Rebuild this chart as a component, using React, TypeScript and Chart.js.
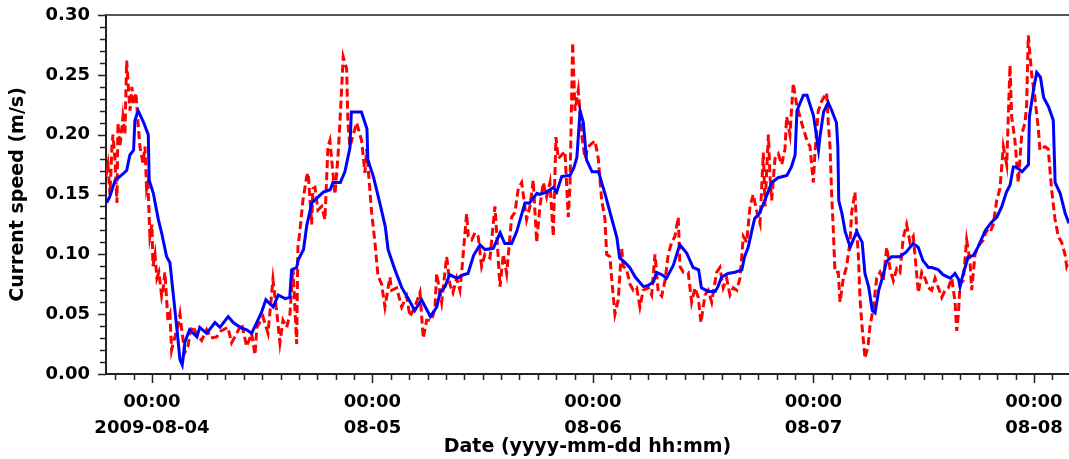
import React, { useEffect, useRef } from "react";
import { Chart, registerables } from "chart.js";

Chart.register(...registerables);

// Hours relative to 2009-08-04 00:00
const blueHours = [-4.93,-4.6,-4.0,-3.5,-2.75,-2.4,-2.0,-1.85,-1.5,-0.95,-0.4,-0.3,0.15,0.7,1.05,1.6,1.96,2.3,2.7,3.05,3.3,3.6,4.1,4.9,5.2,5.95,6.86,7.4,8.3,8.85,9.6,10.3,10.85,11.4,11.9,12.4,13.2,13.75,14.5,15.0,15.2,15.75,15.9,16.5,16.85,17.4,18.1,18.65,19.4,19.7,20.5,21.0,21.55,21.7,22.8,23.4,23.5,24.1,24.8,25.4,25.7,26.45,27.2,27.9,28.6,29.35,30.3,31.0,31.35,31.9,32.4,33.2,33.9,34.4,35.0,35.7,36.25,37.15,37.9,38.4,39.15,39.7,40.6,41.1,41.9,42.2,42.95,43.7,44.05,44.6,45.5,45.9,46.25,46.6,46.95,47.3,47.9,48.6,49.3,50.0,50.6,50.9,51.5,52.0,52.6,53.5,54.0,54.6,54.9,55.5,56.0,56.75,57.45,58.2,58.9,59.5,59.8,60.55,61.3,61.6,62.0,62.7,63.45,64.2,64.5,64.9,65.3,65.6,66.1,66.7,67.45,68.15,69.1,69.6,70.0,70.2,70.9,71.3,72.0,72.55,72.7,73.1,73.6,74.0,74.5,74.65,74.75,75.1,75.45,76.0,76.7,77.3,77.6,78.0,78.4,78.7,79.1,79.6,79.95,80.5,81.4,82.1,82.85,83.4,83.9,84.5,84.9,85.6,86.1,86.9,87.4,87.8,87.95,88.3,88.85,89.4,89.9,90.7,91.4,91.95,92.5,93.0,93.4,93.75,94.1,94.7,95.4,95.5,96.0,96.3,96.7,97.05,97.6,98.1,98.3,98.85,99.4,99.8];
const blueSpeed = [0.143,0.148,0.162,0.165,0.170,0.183,0.187,0.212,0.220,0.211,0.200,0.162,0.151,0.129,0.118,0.098,0.093,0.068,0.039,0.012,0.0075,0.027,0.037,0.031,0.039,0.034,0.043,0.039,0.048,0.043,0.039,0.037,0.034,0.043,0.051,0.062,0.056,0.066,0.063,0.064,0.087,0.089,0.095,0.104,0.124,0.143,0.148,0.152,0.154,0.160,0.160,0.169,0.189,0.219,0.219,0.205,0.179,0.165,0.143,0.123,0.104,0.087,0.072,0.063,0.053,0.062,0.048,0.056,0.068,0.073,0.083,0.080,0.083,0.084,0.099,0.108,0.104,0.105,0.118,0.109,0.109,0.119,0.143,0.143,0.151,0.150,0.152,0.156,0.152,0.165,0.166,0.172,0.181,0.220,0.210,0.179,0.169,0.169,0.151,0.131,0.114,0.097,0.093,0.089,0.081,0.073,0.074,0.077,0.085,0.083,0.080,0.091,0.108,0.101,0.089,0.087,0.072,0.069,0.069,0.073,0.081,0.084,0.085,0.087,0.098,0.106,0.120,0.130,0.134,0.145,0.160,0.164,0.166,0.173,0.183,0.220,0.233,0.233,0.216,0.187,0.198,0.219,0.227,0.220,0.210,0.190,0.145,0.134,0.119,0.106,0.119,0.110,0.084,0.073,0.053,0.051,0.070,0.083,0.094,0.098,0.098,0.102,0.109,0.106,0.095,0.089,0.089,0.087,0.083,0.080,0.084,0.079,0.073,0.084,0.098,0.099,0.106,0.120,0.127,0.131,0.140,0.152,0.158,0.173,0.173,0.169,0.175,0.215,0.240,0.252,0.248,0.231,0.223,0.212,0.160,0.151,0.134,0.126];

const redHours = [-5.01,-4.79,-4.57,-4.35,-4.24,-4.03,-3.81,-3.70,-3.48,-3.16,-2.94,-2.75,-2.61,-2.39,-2.18,-2.01,-1.74,-1.52,-1.31,-0.98,-0.76,-0.58,-0.44,-0.22,0,0.11,0.33,0.54,0.76,1.06,1.20,1.41,1.74,1.96,2.14,2.29,2.50,2.83,3.05,3.27,3.59,3.92,4.14,4.46,4.87,5.41,5.95,6.42,7.04,7.51,8.27,8.67,9.22,9.76,10.31,10.85,11.21,11.43,12.08,12.63,13.17,13.61,13.93,14.26,14.66,15.02,15.35,15.56,15.75,15.89,16.11,16.43,16.84,17.01,17.38,17.52,17.74,18.07,18.47,18.83,19.16,19.37,19.92,20.24,20.46,20.82,21.19,21.33,21.55,22.28,22.82,23.18,23.37,23.91,24.27,24.60,25.00,25.36,25.90,26.09,26.63,27.18,27.72,28.08,28.62,29.17,29.53,29.90,30.44,30.80,30.99,31.53,32.08,32.43,32.76,33.16,33.52,33.71,34.25,34.43,34.80,35.16,35.51,35.88,36.24,36.79,37.33,37.52,37.88,38.24,38.61,39.15,39.51,39.87,40.24,40.78,41.14,41.50,41.87,42.23,42.59,42.96,43.32,43.68,43.97,44.22,44.59,44.95,45.31,45.50,45.79,46.04,46.40,46.77,47.13,47.49,48.22,48.58,48.95,49.30,49.49,49.85,50.03,50.39,50.75,51.12,51.30,51.67,52.03,52.39,52.76,53.11,53.47,54.02,54.39,54.75,55.11,55.48,55.84,56.20,56.56,56.92,57.28,57.47,57.83,58.37,58.74,59.10,59.46,59.75,60.19,60.55,60.92,61.46,61.82,62.18,62.55,62.91,63.27,63.64,64.00,64.36,64.73,65.09,65.45,65.82,66.18,66.54,66.73,67.09,67.27,67.45,67.81,68.17,68.54,68.90,69.08,69.44,69.80,70.17,70.53,70.89,71.26,71.62,71.98,72.16,72.52,72.89,73.43,73.61,73.80,73.98,74.16,74.34,74.70,74.89,75.25,75.61,75.97,76.16,76.52,76.70,76.88,77.06,77.25,77.61,77.96,78.15,78.51,78.88,79.24,79.60,79.97,80.33,80.69,81.06,81.41,81.77,82.14,82.50,82.86,83.04,83.41,83.78,84.14,84.50,84.87,85.23,85.59,85.96,86.32,86.68,87.05,87.41,87.59,87.77,87.95,88.30,88.67,89.03,89.22,89.58,89.94,90.48,90.85,91.21,91.57,91.94,92.30,92.66,93.03,93.39,93.57,93.93,94.29,94.66,95.02,95.20,95.38,95.75,96.11,96.47,96.65,97.19,97.55,97.92,98.28,98.64,99.01,99.37,99.56,99.81];
const redSpeed = [0.165,0.175,0.15,0.19,0.2,0.18,0.143,0.21,0.19,0.215,0.2,0.262,0.245,0.22,0.24,0.225,0.235,0.21,0.19,0.176,0.19,0.155,0.16,0.115,0.125,0.09,0.1,0.08,0.085,0.065,0.07,0.085,0.045,0.05,0.02,0.025,0.031,0.04,0.05,0.035,0.018,0.023,0.034,0.04,0.033,0.028,0.037,0.03,0.031,0.036,0.039,0.026,0.034,0.042,0.023,0.034,0.016,0.039,0.048,0.034,0.079,0.05,0.026,0.045,0.039,0.05,0.089,0.055,0.025,0.106,0.12,0.145,0.165,0.168,0.125,0.155,0.156,0.137,0.14,0.129,0.19,0.195,0.15,0.181,0.21,0.265,0.255,0.21,0.19,0.21,0.195,0.168,0.188,0.135,0.11,0.082,0.075,0.056,0.081,0.07,0.072,0.056,0.065,0.048,0.056,0.068,0.03,0.045,0.045,0.055,0.084,0.06,0.098,0.075,0.068,0.08,0.07,0.085,0.134,0.115,0.112,0.118,0.115,0.09,0.1,0.097,0.14,0.118,0.073,0.1,0.084,0.131,0.135,0.155,0.16,0.129,0.14,0.162,0.11,0.14,0.16,0.148,0.16,0.115,0.198,0.18,0.183,0.186,0.131,0.158,0.277,0.22,0.237,0.2,0.18,0.19,0.195,0.18,0.145,0.13,0.1,0.098,0.08,0.05,0.062,0.105,0.09,0.087,0.075,0.07,0.072,0.056,0.07,0.072,0.066,0.1,0.068,0.065,0.078,0.1,0.11,0.115,0.131,0.09,0.085,0.085,0.06,0.072,0.064,0.043,0.066,0.07,0.06,0.085,0.089,0.072,0.08,0.066,0.072,0.07,0.08,0.115,0.11,0.14,0.15,0.136,0.126,0.185,0.14,0.2,0.165,0.145,0.18,0.184,0.175,0.188,0.215,0.2,0.243,0.225,0.215,0.205,0.196,0.19,0.16,0.185,0.22,0.228,0.235,0.21,0.19,0.15,0.12,0.085,0.085,0.06,0.08,0.09,0.11,0.135,0.152,0.12,0.1,0.064,0.043,0.013,0.025,0.04,0.055,0.08,0.085,0.078,0.106,0.088,0.078,0.088,0.085,0.114,0.125,0.11,0.115,0.1,0.068,0.085,0.08,0.072,0.07,0.08,0.072,0.064,0.07,0.072,0.08,0.06,0.036,0.05,0.075,0.078,0.112,0.095,0.07,0.1,0.107,0.112,0.12,0.118,0.125,0.145,0.155,0.19,0.175,0.258,0.215,0.195,0.16,0.2,0.21,0.225,0.283,0.25,0.23,0.205,0.187,0.19,0.188,0.154,0.13,0.115,0.11,0.1,0.09,0.095];

const dayTicks = [0, 24, 48, 72, 96];
const dayLabels = ["2009-08-04", "08-05", "08-06", "08-07", "08-08"];
const timeLabel = "00:00";
const speedTicks = [0, 0.05, 0.1, 0.15, 0.2, 0.25, 0.3];
const xMin = -5.0;
const xMax = 99.81;

const FONT = "'DejaVu Sans', Verdana, sans-serif";

const tickPlugin = {
  id: "customTicks",
  afterDraw(chart: any) {
    const ctx = chart.ctx;
    const xs = chart.scales.x;
    const ys = chart.scales.y;
    const area = chart.chartArea;
    ctx.save();
    ctx.strokeStyle = "#222";
    ctx.lineWidth = 1.5;
    for (let i = 0; i <= 30; i++) {
      const py = Math.round(ys.getPixelForValue(i / 100)) + 0.5;
      const len = i % 5 === 0 ? 8 : 6;
      ctx.beginPath();
      ctx.moveTo(area.left - len, py);
      ctx.lineTo(area.left, py);
      ctx.stroke();
    }
    for (let h = -4; h <= 98; h += 2) {
      const px = Math.round(xs.getPixelForValue(h)) + 0.5;
      const len = h % 24 === 0 ? 9 : 6;
      ctx.beginPath();
      ctx.moveTo(px, area.bottom);
      ctx.lineTo(px, area.bottom + len);
      ctx.stroke();
    }
    ctx.strokeStyle = "#555";
    ctx.lineWidth = 2;
    ctx.beginPath();
    ctx.moveTo(area.left, area.top);
    ctx.lineTo(area.right, area.top);
    ctx.stroke();
    ctx.restore();
  },
};

export default function App() {
  const ref = useRef<HTMLCanvasElement | null>(null);
  useEffect(() => {
    if (!ref.current) return;
    const chart = new Chart(ref.current, {
      type: "line",
      data: {
        datasets: [
          {
            label: "smoothed",
            data: blueHours.map((h, i) => ({ x: h, y: blueSpeed[i] })),
            borderColor: "#0000ff",
            borderWidth: 3,
            pointRadius: 0,
            tension: 0,
            fill: false,
          },
          {
            label: "measured",
            data: redHours.map((h, i) => ({ x: h, y: redSpeed[i] })),
            borderColor: "#ff0000",
            borderWidth: 3,
            borderDash: [8, 4],
            pointRadius: 0,
            tension: 0,
            fill: false,
          },
        ],
      },
      options: {
        animation: false,
        responsive: false,
        maintainAspectRatio: false,
        layout: { padding: { top: 15, left: 0, right: 0, bottom: 0 } },
        plugins: { legend: { display: false }, tooltip: { enabled: false } },
        scales: {
          x: {
            type: "linear",
            min: xMin,
            max: xMax,
            afterBuildTicks: (scale: any) => {
              scale.ticks = dayTicks.map((v) => ({ value: v }));
            },
            afterFit: (scale: any) => {
              scale.height = 85;
              scale.paddingLeft = 0;
              scale.paddingRight = 0;
            },
            grid: { display: true, drawOnChartArea: false, drawTicks: false },
            border: { display: true, color: "#222", width: 2 },
            ticks: {
              autoSkip: false,
              maxRotation: 0,
              padding: 15,
              color: "#000",
              font: { family: FONT, size: 18, weight: "bold", lineHeight: 1.444 },
              callback: (value: any) => {
                const i = dayTicks.indexOf(Number(value));
                return i >= 0 ? [timeLabel, dayLabels[i]] : "";
              },
            },
            title: {
              display: true,
              text: "Date (yyyy-mm-dd hh:mm)",
              color: "#000",
              font: { family: FONT, size: 19, weight: "bold" },
              padding: { top: 0, bottom: 1 },
            },
          },
          y: {
            type: "linear",
            min: 0,
            max: 0.3,
            afterBuildTicks: (scale: any) => {
              scale.ticks = speedTicks.map((v) => ({ value: v }));
            },
            afterFit: (scale: any) => {
              scale.width = 106;
              scale.paddingTop = 0;
              scale.paddingBottom = 0;
            },
            grid: { display: true, drawOnChartArea: false, drawTicks: false },
            border: { display: true, color: "#222", width: 2 },
            ticks: {
              padding: 16,
              color: "#000",
              font: { family: FONT, size: 18, weight: "bold" },
              callback: (value: any) => Number(value).toFixed(2),
            },
            title: {
              display: true,
              text: "Current speed (m/s)",
              color: "#000",
              font: { family: FONT, size: 19, weight: "bold" },
              padding: { top: 7, bottom: 0 },
            },
          },
        },
      },
      plugins: [tickPlugin],
    });
    return () => chart.destroy();
  }, []);
  return (
    <div style={{ position: "absolute", left: 0, top: 0, width: 1069, height: 459, background: "#fff" }}>
      <canvas ref={ref} width={1069} height={459} style={{ width: 1069, height: 459, display: "block" }} />
    </div>
  );
}
